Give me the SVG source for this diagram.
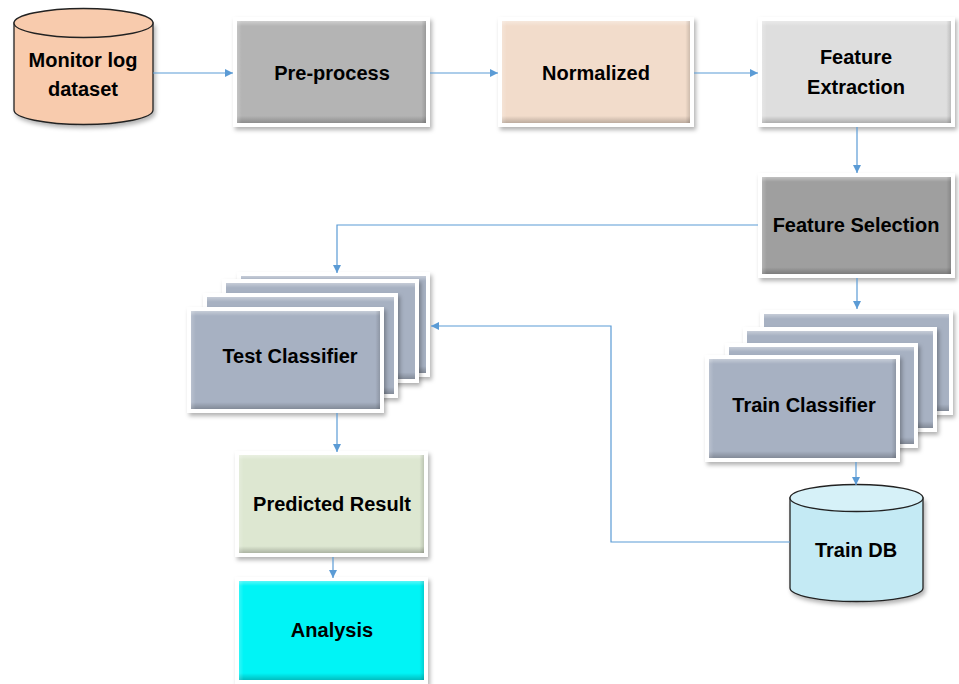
<svg xmlns="http://www.w3.org/2000/svg" width="959" height="684" viewBox="0 0 959 684">
<defs>
<filter id="sh" x="-10%" y="-10%" width="125%" height="130%">
<feDropShadow dx="2" dy="3" stdDeviation="2" flood-color="#000" flood-opacity="0.3"/>
</filter>
<linearGradient id="bevV" x1="0" y1="0" x2="0" y2="1">
<stop offset="0" stop-color="#fff" stop-opacity="0.35"/>
<stop offset="0.05" stop-color="#fff" stop-opacity="0"/>
<stop offset="0.93" stop-color="#000" stop-opacity="0"/>
<stop offset="1" stop-color="#000" stop-opacity="0.22"/>
</linearGradient>
<linearGradient id="bevH" x1="0" y1="0" x2="1" y2="0">
<stop offset="0" stop-color="#fff" stop-opacity="0.2"/>
<stop offset="0.025" stop-color="#fff" stop-opacity="0"/>
<stop offset="0.975" stop-color="#000" stop-opacity="0"/>
<stop offset="1" stop-color="#000" stop-opacity="0.15"/>
</linearGradient>
<marker id="ar" markerWidth="8" markerHeight="8" refX="8" refY="4" orient="auto" markerUnits="userSpaceOnUse">
<path d="M0,0 L8,4 L0,8 z" fill="#5B9BD5"/>
</marker>
</defs>
<style>
.frame{fill:#fff;filter:url(#sh)}
.bv{fill:url(#bevV)}
.bh{fill:url(#bevH)}
.t{font-family:"Liberation Sans",Arial,sans-serif;font-weight:bold;font-size:20px;fill:#000;text-anchor:middle;dominant-baseline:central}
.cyl{stroke:#222;stroke-width:1.3;filter:url(#sh)}
.cl{fill:#A7B1C2}
.con{fill:none;stroke:#5B9BD5;stroke-width:1.2}
.ah{marker-end:url(#ar)}
</style>

<g id="monitor-log-dataset">
<path class="cyl" d="M14,23 V110 A69.5,14.5 0 0 0 153,110 V23 Z" fill="#F8CBAD"/>
<ellipse cx="83.5" cy="23" rx="69.5" ry="14.5" fill="#F8CBAD" stroke="#222" stroke-width="1.3"/>
<text class="t" x="83" y="60">Monitor log</text>
<text class="t" x="83" y="89">dataset</text>
</g>

<g id="pre-process">
<rect class="frame" x="233" y="17" width="197" height="110"/>
<rect x="237" y="21" width="189" height="102" fill="#B4B4B4"/>
<rect class="bv" x="237" y="21" width="189" height="102"/>
<rect class="bh" x="237" y="21" width="189" height="102"/>
<text class="t" x="332" y="73">Pre-process</text>
</g>

<g id="normalized">
<rect class="frame" x="498" y="17" width="196" height="110"/>
<rect x="502" y="21" width="188" height="102" fill="#F2DCCB"/>
<rect class="bv" x="502" y="21" width="188" height="102"/>
<rect class="bh" x="502" y="21" width="188" height="102"/>
<text class="t" x="596" y="73">Normalized</text>
</g>

<g id="feature-extraction">
<rect class="frame" x="758" y="17" width="197" height="110"/>
<rect x="762" y="21" width="189" height="102" fill="#DEDEDE"/>
<rect class="bv" x="762" y="21" width="189" height="102"/>
<rect class="bh" x="762" y="21" width="189" height="102"/>
<text class="t" x="856" y="57">Feature</text>
<text class="t" x="856" y="87">Extraction</text>
</g>

<g id="feature-selection">
<rect class="frame" x="758" y="173" width="197" height="105"/>
<rect x="762" y="177" width="189" height="97" fill="#9F9F9F"/>
<rect class="bv" x="762" y="177" width="189" height="97"/>
<rect class="bh" x="762" y="177" width="189" height="97"/>
<text class="t" x="856" y="225">Feature Selection</text>
</g>

<g id="test-classifier">
<rect class="frame" x="237" y="272" width="193" height="105"/>
<rect class="cl" x="241" y="276" width="185" height="97"/>
<rect class="bv" x="241" y="276" width="185" height="97"/>
<rect class="frame" x="222" y="279" width="197" height="104"/>
<rect class="cl" x="226" y="283" width="189" height="96"/>
<rect class="bv" x="226" y="283" width="189" height="96"/>
<rect class="frame" x="203" y="293" width="195" height="105"/>
<rect class="cl" x="207" y="297" width="187" height="97"/>
<rect class="bv" x="207" y="297" width="187" height="97"/>
<rect class="frame" x="187" y="307" width="197" height="106"/>
<rect class="cl" x="191" y="311" width="189" height="98"/>
<rect class="bv" x="191" y="311" width="189" height="98"/>
<rect class="bh" x="191" y="311" width="189" height="98"/>
<text class="t" x="290" y="356">Test Classifier</text>
</g>

<g id="train-classifier">
<rect class="frame" x="760" y="310" width="193" height="105"/>
<rect class="cl" x="764" y="314" width="185" height="97"/>
<rect class="bv" x="764" y="314" width="185" height="97"/>
<rect class="frame" x="743" y="327" width="194" height="105"/>
<rect class="cl" x="747" y="331" width="186" height="97"/>
<rect class="bv" x="747" y="331" width="186" height="97"/>
<rect class="frame" x="725" y="343" width="193" height="105"/>
<rect class="cl" x="729" y="347" width="185" height="97"/>
<rect class="bv" x="729" y="347" width="185" height="97"/>
<rect class="frame" x="705" y="355" width="195" height="107"/>
<rect class="cl" x="709" y="359" width="187" height="99"/>
<rect class="bv" x="709" y="359" width="187" height="99"/>
<rect class="bh" x="709" y="359" width="187" height="99"/>
<text class="t" x="804" y="405">Train Classifier</text>
</g>

<g id="train-db">
<path class="cyl" d="M790,498 V588 A66.5,13.5 0 0 0 923,588 V498 Z" fill="#C4EAF4"/>
<ellipse cx="856.5" cy="498" rx="66.5" ry="13.5" fill="#D6F1F8" stroke="#222" stroke-width="1.3"/>
<text class="t" x="856" y="550">Train DB</text>
</g>

<g id="predicted-result">
<rect class="frame" x="235" y="451" width="193" height="106"/>
<rect x="239" y="455" width="185" height="98" fill="#DDE7D1"/>
<rect class="bv" x="239" y="455" width="185" height="98"/>
<rect class="bh" x="239" y="455" width="185" height="98"/>
<text class="t" x="332" y="504">Predicted Result</text>
</g>

<g id="analysis">
<rect class="frame" x="235" y="577" width="193" height="107"/>
<rect x="239" y="581" width="185" height="99" fill="#00F4F6"/>
<rect class="bv" x="239" y="581" width="185" height="99"/>
<rect class="bh" x="239" y="581" width="185" height="99"/>
<text class="t" x="332" y="630">Analysis</text>
</g>

<g id="connectors">
<path class="con ah" d="M153,73 H233"/>
<path class="con ah" d="M430,73 H498"/>
<path class="con ah" d="M694,73 H758"/>
<path class="con ah" d="M857,127 V173"/>
<path class="con ah" d="M758,225 H337 V273"/>
<path class="con ah" d="M857,278 V309"/>
<path class="con ah" d="M856,462 V485"/>
<path class="con ah" d="M790,542 H611 V326 H431"/>
<path class="con ah" d="M337,413 V452"/>
<path class="con ah" d="M333,557 V578"/>
</g>
</svg>
